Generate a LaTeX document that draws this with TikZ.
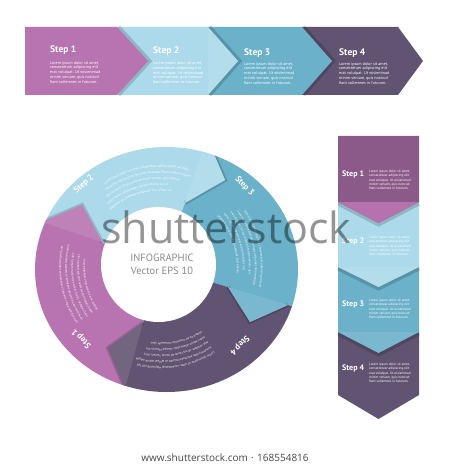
\documentclass[tikz,border=0pt]{standalone}
\usepackage{fontspec}
\setmainfont{PT Sans}
\newfontfamily\wmfont{Open Sans}
\usetikzlibrary{decorations.text}
\definecolor{cpink}{RGB}{184,116,176}
\definecolor{clblue}{RGB}{172,218,234}
\definecolor{cteal}{RGB}{106,177,201}
\definecolor{cpurp}{RGB}{97,84,114}
\definecolor{cmauve}{RGB}{140,90,136}
\definecolor{cmauvetip}{RGB}{182,114,174}
\definecolor{cgraytxt}{RGB}{140,140,140}
\definecolor{cfoot}{RGB}{70,70,70}
\newcommand{\arcline}[4]{%
  \path[decorate, decoration={text along path, text color=white,
    text={|\fontsize{3.1}{3.1}\selectfont|#4}}]
    (#1:#3) arc[start angle=#1, end angle=#2, radius=#3];}
\begin{document}
\begin{tikzpicture}[x=1pt,y=-1pt,
  steplabel/.style={font=\bfseries\fontsize{9.5}{11}\selectfont, text=white, inner sep=0pt, anchor=base west},
  vlabel/.style={font=\bfseries\fontsize{8}{10}\selectfont, text=white, inner sep=0pt, anchor=base west},
  clabel/.style={font=\bfseries\fontsize{8.5}{10}\selectfont, text=white, inner sep=0pt},
  bodytext/.style={font=\fontsize{4.1}{4.75}\selectfont, text=white, align=left, inner sep=0pt, anchor=north west},
  vbody/.style={font=\fontsize{3.4}{4.2}\selectfont, text=white, align=left, inner sep=0pt, anchor=north west},
  shadowline/.style={draw=black, draw opacity=0.16, line width=4pt, line join=miter},
  tipface/.style={fill=white, fill opacity=0.10},
]
\useasboundingbox (0,0) rectangle (450,470);
\fill[white] (0,0) rectangle (450,470);

% ---------------- top banner ----------------
\fill[cpurp] (302,27) -- (398,27) -- (423,61) -- (398,95) -- (302,95) -- cycle;
\path[shadowline] (303.5,27) -- (333.5,61) -- (303.5,95);
\fill[cteal] (208,27) -- (302,27) -- (332,61) -- (302,95) -- (208,95) -- cycle;
\path[shadowline] (209.5,27) -- (239.5,61) -- (209.5,95);
\fill[clblue] (117,27) -- (208,27) -- (238,61) -- (208,95) -- (117,95) -- cycle;
\fill[tipface] (208,27) -- (238,61) -- (208,95) -- cycle;
\path[shadowline] (118.5,27) -- (149.5,61) -- (118.5,95);
\fill[cpink] (25,27) -- (117,27) -- (148,61) -- (117,95) -- (25,95) -- cycle;

\node[steplabel] (t1) at (50,53) {Step 1};
\node[steplabel] (t2) at (153,54) {Step 2};
\node[steplabel] (t3) at (244,55.5) {Step 3};
\node[steplabel] (t4) at (339,55.5) {Step 4};
\node[bodytext] (b1) at (50,61) {Lorem ipsum dolor sit amet,\\consectetuer adipiscing elit\\erat volutpat. Ut wisienimad\\minim veniam, quis nostrud\\fiant sollemnes in futurum.};
\node[bodytext] (b2) at (153,61.5) {Lorem ipsum dolor sit amet,\\consectetuer adipiscing elit\\erat volutpat. Ut wisienimad\\minim veniam, quis nostrud\\fiant sollemnes in futurum.};
\node[bodytext] (b3) at (244,62) {Lorem ipsum dolor sit amet,\\consectetuer adipiscing elit\\erat volutpat. Ut wisienimad\\minim veniam, quis nostrud\\fiant sollemnes in futurum.};
\node[bodytext] (b4) at (339,62) {Lorem ipsum dolor sit amet,\\consectetuer adipiscing elit\\erat volutpat. Ut wisienimad\\minim veniam, quis nostrud\\fiant sollemnes in futurum.};

% ---------------- vertical banner ----------------
\fill[cpurp] (338,332) -- (419,332) -- (419,395) -- (378.5,419) -- (338,395) -- cycle;
\path[shadowline] (338,333.5) -- (378.5,354.5) -- (419,333.5);
\fill[cteal] (338,267) -- (419,267) -- (419,332) -- (378.5,353) -- (338,332) -- cycle;
\fill[tipface] (338,332) -- (419,332) -- (378.5,353) -- cycle;
\path[shadowline] (338,268.5) -- (378.5,288.5) -- (419,268.5);
\fill[clblue] (338,202) -- (419,202) -- (419,267) -- (378.5,287) -- (338,267) -- cycle;
\fill[tipface] (338,267) -- (419,267) -- (378.5,287) -- cycle;
\path[shadowline] (338,203.5) -- (378.5,224.5) -- (419,203.5);
\fill[cmauve] (338,136) -- (419,136) -- (419,202) -- (378.5,223) -- (338,202) -- cycle;
\fill[cmauvetip] (338,202) -- (419,202) -- (378.5,223) -- cycle;

\node[vlabel] (v1) at (342,177) {Step 1};
\node[vlabel] (v2) at (342,243) {Step 2};
\node[vlabel] (v3) at (342,306) {Step 3};
\node[vlabel] (v4) at (342,370) {Step 4};
\node[vbody] (vb1) at (369,170) {Lorem ipsum dolor sit amet,\\consectetuer adipiscing elit\\erat volutpat. Ut wisienimad\\minim veniam, quis nostrud\\fiant sollemnes in futurum.};
\node[vbody] (vb2) at (369,236) {Lorem ipsum dolor sit amet,\\consectetuer adipiscing elit\\erat volutpat. Ut wisienimad\\minim veniam, quis nostrud\\fiant sollemnes in futurum.};
\node[vbody] (vb3) at (369,299) {Lorem ipsum dolor sit amet,\\consectetuer adipiscing elit\\erat volutpat. Ut wisienimad\\minim veniam, quis nostrud\\fiant sollemnes in futurum.};
\node[vbody] (vb4) at (369,363) {Lorem ipsum dolor sit amet,\\consectetuer adipiscing elit\\erat volutpat. Ut wisienimad\\minim veniam, quis nostrud\\fiant sollemnes in futurum.};

% ---------------- circle ----------------
\coordinate (C) at (161,267);
\coordinate (I1) at (102,242); \coordinate (A1) at (82,205);  \coordinate (O1) at (42,222);
\coordinate (I2) at (185,203); \coordinate (A2) at (225,180); \coordinate (O2) at (207,138);
\coordinate (I3) at (228,287); \coordinate (A3) at (250,322); \coordinate (O3) at (288,305);
\coordinate (I4) at (143,323); \coordinate (A4) at (108,348); \coordinate (O4) at (125,388);
\begin{scope}
  \clip (166.5,269.5) ellipse [x radius=131.5, y radius=122.5];
  % pink (step 1)
  \fill[cpink] (C) -- (I4) -- (A4) -- (O4) -- (102,460) -- (-37,361) -- (-31,194) -- (O1) -- (A1) -- (I1) -- cycle;
  % light blue (step 2)
  \fill[clblue] (C) -- (I1) -- (A1) -- (O1) -- (-31,194) -- (70,68) -- (233,60) -- (O2) -- (A2) -- (I2) -- cycle;
  % teal (step 3)
  \fill[cteal] (C) -- (I2) -- (A2) -- (O2) -- (233,60) -- (359,168) -- (363,327) -- (O3) -- (A3) -- (I3) -- cycle;
  % purple (step 4)
  \fill[cpurp] (C) -- (I3) -- (A3) -- (O3) -- (363,327) -- (266,462) -- (102,460) -- (O4) -- (A4) -- (I4) -- cycle;
  % folded tips with shadows
  \path[shadowline] (O1) -- (A1) -- (I1);
  \fill[cpink] (O1) -- (A1) -- (I1) -- cycle;
  \fill[tipface] (O1) -- (A1) -- (I1) -- cycle;
  \path[shadowline] (O2) -- (A2) -- (I2);
  \fill[clblue] (O2) -- (A2) -- (I2) -- cycle;
  \fill[tipface] (O2) -- (A2) -- (I2) -- cycle;
  \path[shadowline] (O3) -- (A3) -- (I3);
  \fill[cteal] (O3) -- (A3) -- (I3) -- cycle;
  \fill[tipface] (O3) -- (A3) -- (I3) -- cycle;
  \path[shadowline] (O4) -- (A4) -- (I4);
  \fill[cpurp] (O4) -- (A4) -- (I4) -- cycle;
  \fill[tipface] (O4) -- (A4) -- (I4) -- cycle;
\end{scope}
\fill[white] (158.5,264.5) circle [radius=57.5];

\begin{scope}[shift={(C)}, y=1pt]
  % step labels
  \node[clabel, rotate=43]   (c2) at (133:113) {Step 2};
  \node[clabel, rotate=-47]  (c3) at (44:116)  {Step 3};
  \node[clabel, rotate=-134] (c4) at (-45:111) {Step 4};
  \node[clabel, rotate=136]  (c1) at (222:107) {Step 1};
  % step 2 text
  \arcline{124}{72}{100}{Lorem ipsum dolor sit amet, consectetuer adipiscing elit sed diam}
  \arcline{126}{72}{94}{nonummy nibh euismod tincidunt ut laoreet dolore magna aliquam}
  \arcline{128}{72}{88}{erat volutpat. Ut wisi enim ad minim veniam, quis nostrud}
  \arcline{130}{72}{82}{exerci tation ullamcorper suscipit lobortis nisl ut}
  \arcline{132}{72}{76}{aliquip ex ea commodo consequat. Duis autem vel}
  % step 3 text
  \arcline{34}{-14}{100}{Lorem ipsum dolor sit amet, consectetuer adipiscing elit sed}
  \arcline{36}{-14}{94}{nonummy nibh euismod tincidunt ut laoreet dolore magna}
  \arcline{38}{-14}{88}{erat volutpat. Ut wisi enim ad minim veniam, quis}
  \arcline{40}{-14}{82}{exerci tation ullamcorper suscipit lobortis nisl}
  \arcline{42}{-14}{76}{aliquip ex ea commodo consequat. Duis autem}
  % step 4 text
  \arcline{-58}{-112}{100}{Lorem ipsum dolor sit amet, consectetuer adipiscing elit sed}
  \arcline{-58}{-112}{94}{nonummy nibh euismod tincidunt ut laoreet dolore magna}
  \arcline{-58}{-112}{88}{erat volutpat. Ut wisi enim ad minim veniam, quis}
  \arcline{-58}{-112}{82}{exerci tation ullamcorper suscipit lobortis nisl}
  \arcline{-58}{-112}{76}{aliquip ex ea commodo consequat. Duis}
  % step 1 text
  \arcline{214}{162}{100}{Lorem ipsum dolor sit amet, consectetuer adipiscing elit sed}
  \arcline{214}{162}{94}{nonummy nibh euismod tincidunt ut laoreet dolore magna}
  \arcline{214}{162}{88}{erat volutpat. Ut wisi enim ad minim veniam, quis}
  \arcline{214}{162}{82}{exerci tation ullamcorper suscipit lobortis nisl}
  \arcline{214}{162}{76}{aliquip ex ea commodo consequat. Duis}
\end{scope}

\node[font=\fontsize{10.5}{12}\selectfont, text=cgraytxt, align=center, inner sep=0pt] (ctr) at (162,264) {INFOGRAPHIC\\[1pt]Vector EPS 10};

% watermark and footer
\node[font=\wmfont\fontsize{43}{43}\selectfont, text=black, text opacity=0.42, anchor=base west, inner sep=0pt] (wm) at (101,243) {shutterstock};
\node[font=\wmfont\fontsize{10}{12}\selectfont, text=cfoot, inner sep=0pt] (foot) at (225,458) {www.shutterstock.com\,\,·\,\,168554816};
\end{tikzpicture}
\end{document}
